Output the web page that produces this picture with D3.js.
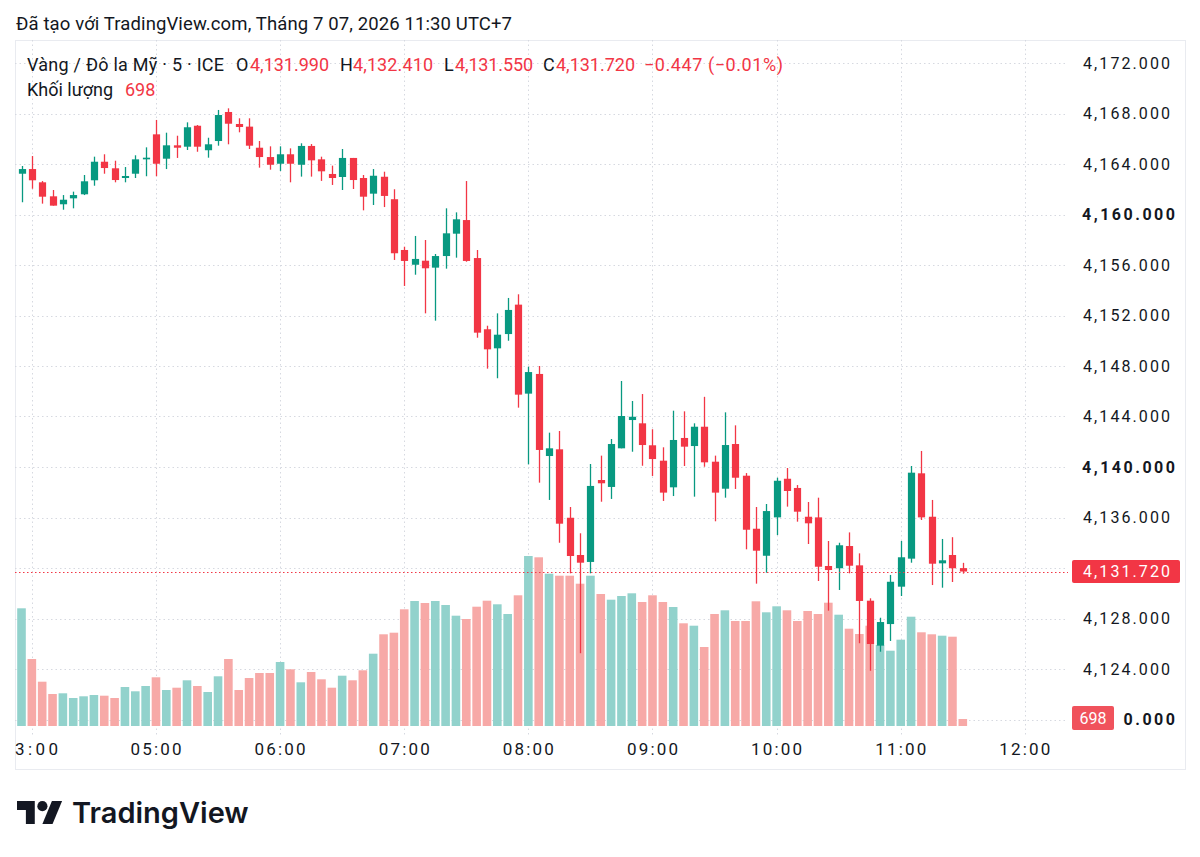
<!DOCTYPE html>
<html>
<head>
<meta charset="utf-8">
<script src="https://cdn.jsdelivr.net/npm/d3@7"></script>
<style>
  body { margin: 0; background: #fff; }
  svg { display: block; font-family: Roboto, "Noto Sans", sans-serif; }
</style>
</head>
<body>
<div id="chart"></div>
<script>
// ----------------------
// XAU/USD 5 min candles + volume (TradingView snapshot)
// ----------------------

const firstBarTime = "03:55";   // 5 minute bars
const lastBarTime = "11:30";

const opens = [
  4163.23, 4163.60, 4162.55, 4161.44, 4160.81, 4161.28, 4161.60, 4162.71, 4164.18, 4163.66,
  4162.89, 4163.23, 4164.37, 4166.35, 4164.42, 4165.48, 4165.37, 4167.03, 4165.09, 4165.82,
  4168.12, 4167.17, 4166.96, 4165.29, 4164.55, 4164.02, 4164.77, 4163.94, 4165.43, 4164.37,
  4163.21, 4162.97, 4164.48, 4162.89, 4161.65, 4162.99, 4161.21, 4157.19, 4156.02, 4156.34,
  4155.79, 4156.71, 4158.48, 4159.56, 4156.55, 4150.91, 4149.40, 4150.53, 4152.86, 4145.81,
  4147.37, 4140.87, 4141.40, 4135.98, 4133.03, 4132.48, 4138.97, 4138.42, 4141.48, 4143.72,
  4143.46, 4141.72, 4140.50, 4138.39, 4142.30, 4141.66, 4143.19, 4140.42, 4138.28, 4141.82,
  4139.31, 4135.11, 4132.97, 4136.01, 4139.07, 4138.34, 4136.06, 4136.01, 4132.16, 4131.98,
  4133.74, 4132.21, 4129.41, 4125.85, 4127.56, 4130.52, 4132.74, 4139.50, 4136.06, 4132.37,
  4133.03, 4131.99
];
const highs = [
  4163.84, 4164.63, 4162.65, 4161.94, 4161.54, 4161.81, 4163.13, 4164.58, 4164.77, 4164.26,
  4163.76, 4164.69, 4165.32, 4167.49, 4166.48, 4166.24, 4167.30, 4167.09, 4166.08, 4168.28,
  4168.41, 4167.62, 4167.62, 4165.82, 4165.40, 4165.40, 4165.24, 4165.64, 4165.58, 4164.58,
  4163.87, 4165.19, 4164.48, 4163.13, 4163.60, 4163.39, 4162.00, 4157.45, 4158.30, 4157.98,
  4156.87, 4160.49, 4160.17, 4162.65, 4157.19, 4151.19, 4152.17, 4153.39, 4153.68, 4147.94,
  4148.00, 4142.72, 4142.85, 4136.83, 4134.75, 4140.24, 4140.90, 4142.22, 4146.81, 4145.23,
  4145.78, 4142.99, 4141.56, 4144.46, 4144.41, 4143.46, 4145.56, 4140.90, 4144.33, 4143.30,
  4139.52, 4136.83, 4137.07, 4139.15, 4139.92, 4138.57, 4137.23, 4137.57, 4134.14, 4134.00,
  4134.82, 4133.16, 4129.60, 4128.06, 4131.45, 4134.14, 4140.08, 4141.27, 4137.39, 4134.30,
  4134.44, 4132.41
];
const lows = [
  4160.97, 4162.04, 4160.86, 4160.70, 4160.38, 4160.49, 4161.54, 4162.28, 4163.23, 4162.55,
  4162.55, 4162.89, 4163.03, 4163.03, 4163.60, 4164.48, 4165.11, 4164.97, 4164.50, 4165.45,
  4165.56, 4166.51, 4165.19, 4163.71, 4163.55, 4163.45, 4162.55, 4163.00, 4163.00, 4162.66,
  4162.34, 4161.94, 4162.02, 4160.33, 4160.75, 4160.59, 4156.40, 4154.34, 4155.23, 4152.17,
  4151.59, 4155.71, 4156.58, 4156.26, 4150.24, 4147.79, 4147.03, 4150.00, 4144.70, 4140.21,
  4138.76, 4137.39, 4134.00, 4131.58, 4125.25, 4131.58, 4137.25, 4137.47, 4141.48, 4141.21,
  4140.10, 4139.29, 4137.31, 4137.70, 4140.08, 4137.65, 4140.02, 4135.70, 4137.57, 4138.26,
  4133.48, 4130.76, 4131.63, 4134.61, 4136.86, 4135.67, 4133.90, 4130.97, 4128.62, 4130.26,
  4131.58, 4126.04, 4123.86, 4125.37, 4126.22, 4129.78, 4132.42, 4135.80, 4130.65, 4130.44,
  4130.89, 4131.55
];
const closes = [
  4163.60, 4162.71, 4161.41, 4160.70, 4161.17, 4161.54, 4162.63, 4164.18, 4163.68, 4162.73,
  4163.05, 4164.37, 4164.50, 4164.02, 4165.48, 4165.29, 4166.91, 4165.37, 4165.56, 4167.88,
  4167.19, 4166.93, 4165.45, 4164.55, 4163.94, 4164.77, 4164.02, 4165.43, 4164.29, 4163.42,
  4162.89, 4164.48, 4162.73, 4161.41, 4163.07, 4161.47, 4156.93, 4156.32, 4156.48, 4155.74,
  4156.71, 4158.51, 4159.62, 4156.32, 4150.64, 4149.32, 4150.48, 4152.44, 4145.73, 4147.52,
  4141.35, 4141.48, 4135.51, 4132.95, 4132.42, 4138.50, 4138.71, 4141.82, 4144.04, 4143.98,
  4141.74, 4140.63, 4137.97, 4142.14, 4141.61, 4143.19, 4140.37, 4137.97, 4141.74, 4139.15,
  4135.03, 4133.37, 4136.51, 4138.91, 4138.10, 4136.46, 4135.54, 4132.10, 4131.84, 4133.80,
  4132.18, 4129.39, 4125.98, 4127.72, 4130.91, 4132.85, 4139.55, 4136.01, 4132.34, 4132.61,
  4131.98, 4131.72
];
const volumes = [
  11770, 6700, 4430, 3200, 3270, 2800, 2970, 3100, 3030, 2800,
  3900, 3470, 4000, 4870, 3600, 3830, 4570, 4000, 3400, 4970,
  6700, 3600, 4800, 5300, 5300, 6400, 5670, 4370, 5400, 4670,
  3830, 5030, 4570, 5570, 7230, 9170, 9330, 11670, 12500, 12300,
  12500, 12100, 11030, 10700, 11930, 12530, 12170, 11200, 13070, 17000,
  16870, 15230, 15030, 15030, 14230, 15030, 13200, 12630, 13000, 13270,
  12400, 13070, 12400, 11900, 10270, 10030, 7900, 11200, 11570, 10500,
  10500, 12470, 11370, 11970, 11570, 10500, 11500, 11200, 12330, 11130,
  9730, 9200, 10030, 8100, 7530, 8630, 10930, 9370, 9170, 9030,
  8930, 698
];

const hourTicks = ["04:00", "05:00", "06:00", "07:00", "08:00", "09:00", "10:00", "11:00", "12:00"];
const hourLabels = ["3:00", "05:00", "06:00", "07:00", "08:00", "09:00", "10:00", "11:00", "12:00"];
const priceTicks = [4120, 4124, 4128, 4132, 4136, 4140, 4144, 4148, 4152, 4156, 4160, 4164, 4168, 4172];

const lastPrice = 4131.72;
const lastVolume = 698;
const changeText = "−0.447 (−0.01%)";

const UP = "#089981", DOWN = "#f23645";
const UP_VOL = "#92d2cc", DOWN_VOL = "#f7a9a7";
const INK = "#131722";

// ----------------------
const width = 1200, height = 857;
const pane = { left: 15, right: 1068, top: 40, bottom: 735 };

const svg = d3.select("#chart")
    .append("svg")
    .attr("width", width)
    .attr("height", height);

const parseTime = d3.timeParse("%H:%M");
const t0 = parseTime(firstBarTime);
const bars = opens.map((o, i) => ({
    t: d3.timeMinute.offset(t0, i * 5),
    o, h: highs[i], l: lows[i], c: closes[i], v: volumes[i]
}));

const x = d3.scaleTime()
    .domain([t0, parseTime(lastBarTime)])
    .range([21.5, 962.8]);

const y = d3.scaleLinear()
    .domain([4124, 4172])
    .range([669, 63]);

const yVol = d3.scaleLinear()
    .domain([0, 17000])
    .range([726, 556]);

// Frame
svg.append("rect")
    .attr("x", 15.5).attr("y", 40.5)
    .attr("width", 1170).attr("height", 729)
    .attr("fill", "none")
    .attr("stroke", "#e9ebf0");

svg.append("defs").append("clipPath")
    .attr("id", "paneClip")
    .append("rect")
    .attr("x", pane.left).attr("y", pane.top)
    .attr("width", pane.right - pane.left)
    .attr("height", pane.bottom - pane.top);

const gPane = svg.append("g").attr("clip-path", "url(#paneClip)");

// Grid
gPane.selectAll(".hgrid")
    .data(priceTicks)
    .enter().append("line")
    .attr("x1", pane.left).attr("x2", pane.right)
    .attr("y1", d => Math.round(y(d)) + 0.5)
    .attr("y2", d => Math.round(y(d)) + 0.5)
    .attr("stroke", "#d6d9e0")
    .attr("stroke-dasharray", "1.5,3");

gPane.selectAll(".vgrid")
    .data(hourTicks)
    .enter().append("line")
    .attr("x1", d => Math.round(x(parseTime(d))) + 0.5)
    .attr("x2", d => Math.round(x(parseTime(d))) + 0.5)
    .attr("y1", pane.top).attr("y2", pane.bottom)
    .attr("stroke", "#d6d9e0")
    .attr("stroke-dasharray", "1.5,3");

// Volume
const barW = 8.6;
gPane.selectAll(".vol")
    .data(bars)
    .enter().append("rect")
    .attr("x", d => x(d.t) - barW / 2)
    .attr("y", d => yVol(d.v))
    .attr("width", barW)
    .attr("height", d => yVol(0) - yVol(d.v))
    .attr("fill", d => d.c >= d.o ? UP_VOL : DOWN_VOL);

// Candles
const candle = gPane.selectAll(".candle")
    .data(bars)
    .enter().append("g");

candle.append("line")
    .attr("x1", d => Math.round(x(d.t)) + 0.5)
    .attr("x2", d => Math.round(x(d.t)) + 0.5)
    .attr("y1", d => y(d.h))
    .attr("y2", d => y(d.l))
    .attr("stroke", d => d.c >= d.o ? UP : DOWN)
    .attr("stroke-width", 1.3);

candle.append("rect")
    .attr("x", d => Math.round(x(d.t)) + 0.5 - 3.6)
    .attr("y", d => y(Math.max(d.o, d.c)))
    .attr("width", 7.2)
    .attr("height", d => Math.max(1.5, Math.abs(y(d.o) - y(d.c))))
    .attr("fill", d => d.c >= d.o ? UP : DOWN);

// Last price line
gPane.append("line")
    .attr("x1", pane.left).attr("x2", pane.right)
    .attr("y1", Math.round(y(lastPrice)) + 0.5)
    .attr("y2", Math.round(y(lastPrice)) + 0.5)
    .attr("stroke", DOWN)
    .attr("stroke-dasharray", "1.5,2.5");

// Price axis labels (4,132 sits under the last price tag, as in TradingView)
const fmt = d3.format(",.3f");
const lastY = y(lastPrice);

// the volume tag hides the left part of the lowest price label
svg.select("defs").append("clipPath")
    .attr("id", "axisClip")
    .append("rect")
    .attr("x", 1068).attr("y", 40)
    .attr("width", 117).attr("height", 665);
svg.select("defs").append("clipPath")
    .attr("id", "lowClip")
    .append("rect")
    .attr("x", 1122).attr("y", 700)
    .attr("width", 63).attr("height", 35);

svg.selectAll(".plabel")
    .data(priceTicks.filter(d => Math.abs(y(d) - lastY) > 12))
    .enter().append("text")
    .attr("clip-path", d => y(d) > 700 ? "url(#lowClip)" : null)
    .attr("x", d => d % 20 === 0 ? 1082 : 1083)
    .attr("y", d => y(d))
    .attr("dy", "0.36em")
    .attr("font-size", 16)
    .attr("font-weight", d => d % 20 === 0 ? 700 : 400)
    .attr("fill", INK)
    .attr("textLength", d => d % 20 === 0 ? 93 : 87)
    .attr("lengthAdjust", "spacing")
    .text(d => fmt(d));

// last price label
svg.append("rect")
    .attr("x", 1072).attr("y", lastY - 11.5)
    .attr("width", 108).attr("height", 23)
    .attr("rx", 2)
    .attr("fill", DOWN);
svg.append("text")
    .attr("x", 1083)
    .attr("y", lastY)
    .attr("dy", "0.36em")
    .attr("font-size", 16)
    .attr("fill", "#fff")
    .attr("textLength", 87)
    .attr("lengthAdjust", "spacing")
    .text(fmt(lastPrice));

// last volume label
svg.append("rect")
    .attr("x", 1072).attr("y", 706)
    .attr("width", 42).attr("height", 24)
    .attr("rx", 2)
    .attr("fill", "#f0525c");
svg.append("text")
    .attr("x", 1093)
    .attr("y", 718)
    .attr("dy", "0.36em")
    .attr("text-anchor", "middle")
    .attr("font-size", 16)
    .attr("fill", "#fff")
    .text(lastVolume);

// Time axis labels
svg.selectAll(".tlabel")
    .data(hourTicks)
    .enter().append("text")
    .attr("x", (d, i) => i === 0 ? 15 : x(parseTime(d)))
    .attr("y", 749)
    .attr("dy", "0.36em")
    .attr("text-anchor", (d, i) => i === 0 ? "start" : "middle")
    .attr("font-size", 17)
    .attr("fill", INK)
    .attr("textLength", (d, i) => i === 0 ? 43 : 51)
    .attr("lengthAdjust", "spacing")
    .text((d, i) => hourLabels[i]);

// Header
svg.append("text")
    .attr("x", 16).attr("y", 30)
    .attr("font-size", 18.5)
    .attr("fill", INK)
    .attr("textLength", 496)
    .attr("lengthAdjust", "spacing")
    .text("Đã tạo với TradingView.com, Tháng 7 07, 2026 11:30 UTC+7");

// Legend
const legend = svg.append("text")
    .attr("y", 70.5)
    .attr("font-size", 18)
    .attr("fill", INK);
const legendParts = [
    [27, "Vàng / Đô la Mỹ · 5 · ICE", INK, 197],
    [236, "O", INK], [250, fmt(opens[opens.length - 1]), DOWN, 79],
    [340, "H", INK], [353, fmt(highs[highs.length - 1]), DOWN, 80],
    [444, "L", INK], [455, fmt(lows[lows.length - 1]), DOWN, 78],
    [543, "C", INK], [556, fmt(lastPrice), DOWN, 79],
    [644, changeText, DOWN, 139]
];
legendParts.forEach(([px, txt, col, len]) => {
    const ts = legend.append("tspan").attr("x", px).attr("fill", col).text(txt);
    if (len) ts.attr("textLength", len).attr("lengthAdjust", "spacing");
});

const legend2 = svg.append("text")
    .attr("y", 96)
    .attr("font-size", 18)
    .attr("fill", INK);
legend2.append("tspan").attr("x", 27).text("Khối lượng");
legend2.append("tspan").attr("x", 125).attr("fill", DOWN).text(lastVolume);

// Logo
const logo = svg.append("g").attr("transform", "translate(17,796) scale(1.27)").attr("fill", INK);
logo.append("path").attr("d", "M14 22H7V11H0V4h14v18z");
logo.append("path").attr("d", "M28 22h-8l7.5-18h8L28 22z");
logo.append("circle").attr("cx", 20).attr("cy", 8).attr("r", 4);

svg.append("text")
    .attr("x", 72).attr("y", 823)
    .attr("font-family", "Inter, Roboto, sans-serif")
    .attr("font-size", 29)
    .attr("font-weight", 600)
    .attr("fill", INK)
    .text("TradingView");
</script>
</body>
</html>
